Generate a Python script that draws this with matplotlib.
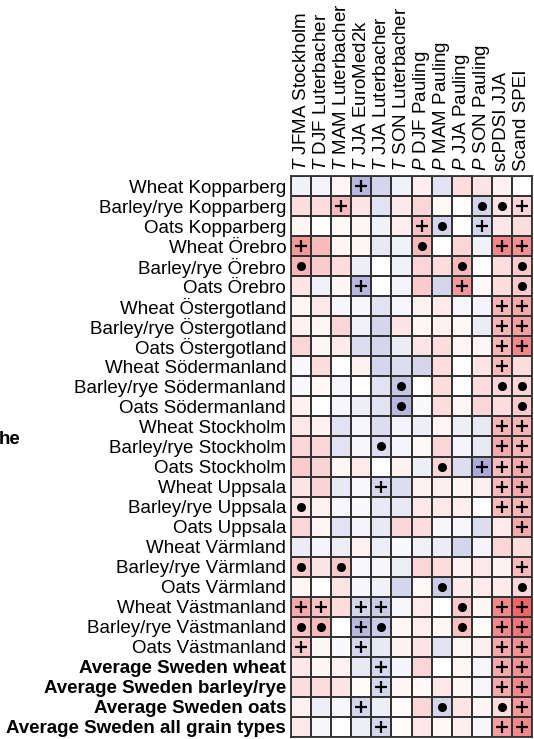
import numpy as np
import matplotlib
matplotlib.use('Agg')
import matplotlib.pyplot as plt
from matplotlib.colors import LinearSegmentedColormap

plt.rcParams['font.family'] = 'Liberation Sans'
plt.rcParams['mathtext.fontset'] = 'custom'
plt.rcParams['mathtext.rm'] = 'Liberation Sans'
plt.rcParams['mathtext.it'] = 'Liberation Sans:italic'

# column labels (climate variables)
columns = [r'$\mathit{T}$ JFMA Stockholm', r'$\mathit{T}$ DJF Luterbacher',
           r'$\mathit{T}$ MAM Luterbacher', r'$\mathit{T}$ JJA EuroMed2k',
           r'$\mathit{T}$ JJA Luterbacher', r'$\mathit{T}$ SON Luterbacher',
           r'$\mathit{P}$ DJF Pauling', r'$\mathit{P}$ MAM Pauling',
           r'$\mathit{P}$ JJA Pauling', r'$\mathit{P}$ SON Pauling',
           'scPDSI JJA', 'Scand SPEI']

# row labels (harvest series)
rows = ['Wheat Kopparberg', 'Barley/rye Kopparberg', 'Oats Kopparberg',
        'Wheat Örebro', 'Barley/rye Örebro', 'Oats Örebro',
        'Wheat Östergotland', 'Barley/rye Östergotland', 'Oats Östergotland',
        'Wheat Södermanland', 'Barley/rye Södermanland', 'Oats Södermanland',
        'Wheat Stockholm', 'Barley/rye Stockholm', 'Oats Stockholm',
        'Wheat Uppsala', 'Barley/rye Uppsala', 'Oats Uppsala',
        'Wheat Värmland', 'Barley/rye Värmland', 'Oats Värmland',
        'Wheat Västmanland', 'Barley/rye Västmanland', 'Oats Västmanland',
        'Average Sweden wheat', 'Average Sweden barley/rye',
        'Average Sweden oats', 'Average Sweden all grain types']
n_bold = 4  # last rows are the Sweden averages

# correlation values
corr = np.array([
    [-0.05, -0.04, 0.03, -0.25, -0.15, -0.05, 0.05, -0.10, 0.10, 0.08, 0.04, 0.00],
    [0.10, 0.10, 0.20, 0.08, -0.10, 0.06, 0.12, 0.02, 0.00, -0.15, 0.08, 0.12],
    [0.03, 0.00, 0.02, 0.03, -0.05, 0.05, 0.18, -0.15, 0.00, -0.15, 0.07, 0.10],
    [0.30, 0.20, 0.03, 0.03, -0.08, -0.05, 0.20, 0.00, 0.12, -0.05, 0.35, 0.32],
    [0.22, 0.15, 0.10, -0.06, 0.00, -0.05, 0.12, 0.10, 0.20, 0.00, 0.10, 0.15],
    [0.08, -0.05, 0.03, -0.25, 0.00, -0.04, 0.15, -0.15, 0.30, 0.02, 0.10, 0.15],
    [0.03, 0.07, -0.03, -0.03, -0.10, -0.03, 0.04, 0.06, -0.03, -0.04, 0.22, 0.25],
    [0.04, 0.03, 0.12, -0.05, -0.15, 0.08, 0.03, 0.04, 0.02, -0.07, 0.22, 0.28],
    [0.12, 0.03, 0.06, -0.12, -0.15, -0.07, 0.08, 0.10, 0.03, 0.03, 0.22, 0.35],
    [-0.02, 0.10, 0.00, 0.04, -0.15, -0.12, -0.15, 0.10, 0.00, 0.08, 0.20, 0.10],
    [-0.02, 0.02, -0.03, 0.00, -0.10, -0.20, 0.00, 0.10, 0.00, 0.10, 0.12, 0.12],
    [0.04, 0.00, -0.03, -0.06, -0.10, -0.25, -0.02, 0.10, 0.03, 0.12, 0.10, 0.15],
    [0.07, 0.04, -0.10, -0.03, -0.12, -0.04, -0.06, 0.03, -0.06, -0.08, 0.22, 0.22],
    [0.12, 0.12, -0.10, -0.03, -0.12, -0.04, 0.02, 0.12, -0.04, -0.08, 0.25, 0.22],
    [0.15, 0.13, 0.03, 0.06, 0.00, 0.04, -0.06, 0.12, -0.12, -0.30, 0.20, 0.25],
    [0.08, 0.13, -0.08, -0.02, -0.15, -0.12, 0.04, 0.05, 0.03, 0.05, 0.20, 0.25],
    [0.08, 0.04, -0.03, -0.02, -0.08, -0.08, 0.07, 0.07, 0.05, 0.00, 0.20, 0.22],
    [0.12, 0.03, -0.10, -0.04, -0.08, 0.12, 0.10, -0.03, -0.03, -0.12, 0.06, 0.25],
    [-0.07, -0.04, -0.06, 0.04, -0.06, -0.02, -0.05, -0.07, -0.15, -0.04, 0.12, 0.10],
    [0.15, 0.08, 0.15, -0.02, -0.03, -0.06, 0.12, 0.10, 0.04, 0.07, 0.04, 0.20],
    [0.03, 0.00, 0.08, -0.03, -0.05, -0.15, 0.02, -0.18, 0.06, 0.06, 0.06, 0.12],
    [0.25, 0.18, 0.10, -0.15, -0.18, -0.03, 0.06, 0.00, 0.15, 0.03, 0.35, 0.45],
    [0.18, 0.20, 0.00, -0.25, -0.18, 0.03, 0.05, 0.03, 0.18, 0.01, 0.35, 0.40],
    [0.15, 0.03, -0.02, -0.15, -0.08, 0.04, 0.08, -0.10, 0.03, 0.05, 0.25, 0.32],
    [0.07, 0.03, 0.04, -0.08, -0.15, -0.04, 0.12, 0.00, 0.03, -0.03, 0.25, 0.32],
    [0.10, 0.10, 0.08, 0.01, -0.15, 0.03, 0.02, 0.07, 0.03, -0.03, 0.25, 0.35],
    [0.04, -0.06, -0.03, -0.15, -0.06, 0.01, 0.12, -0.15, 0.08, 0.03, 0.10, 0.30],
    [0.07, -0.03, 0.00, -0.06, -0.15, 0.01, 0.07, 0.02, 0.05, -0.03, 0.28, 0.35],
])

# significance markers: '+' and 'o' (dot), '' = none
sig = [
    ['', '', '', '+', '', '', '', '', '', '', '', ''],
    ['', '', '+', '', '', '', '', '', '', 'o', 'o', '+'],
    ['', '', '', '', '', '', '+', 'o', '', '+', '', ''],
    ['+', '', '', '', '', '', 'o', '', '', '', '+', '+'],
    ['o', '', '', '', '', '', '', '', 'o', '', '', 'o'],
    ['', '', '', '+', '', '', '', '', '+', '', '', 'o'],
    ['', '', '', '', '', '', '', '', '', '', '+', '+'],
    ['', '', '', '', '', '', '', '', '', '', '+', '+'],
    ['', '', '', '', '', '', '', '', '', '', '+', '+'],
    ['', '', '', '', '', '', '', '', '', '', '+', ''],
    ['', '', '', '', '', 'o', '', '', '', '', 'o', 'o'],
    ['', '', '', '', '', 'o', '', '', '', '', '', 'o'],
    ['', '', '', '', '', '', '', '', '', '', '+', '+'],
    ['', '', '', '', 'o', '', '', '', '', '', '+', '+'],
    ['', '', '', '', '', '', '', 'o', '', '+', '+', '+'],
    ['', '', '', '', '+', '', '', '', '', '', '+', '+'],
    ['o', '', '', '', '', '', '', '', '', '', '+', '+'],
    ['', '', '', '', '', '', '', '', '', '', '', '+'],
    ['', '', '', '', '', '', '', '', '', '', '', ''],
    ['o', '', 'o', '', '', '', '', '', '', '', '', '+'],
    ['', '', '', '', '', '', '', 'o', '', '', '', 'o'],
    ['+', '+', '', '+', '+', '', '', '', 'o', '', '+', '+'],
    ['o', 'o', '', '+', 'o', '', '', '', 'o', '', '+', '+'],
    ['+', '', '', '+', '', '', '', '', '', '', '+', '+'],
    ['', '', '', '', '+', '', '', '', '', '', '+', '+'],
    ['', '', '', '', '+', '', '', '', '', '', '+', '+'],
    ['', '', '', '+', '', '', '', 'o', '', '', 'o', '+'],
    ['', '', '', '', '+', '', '', '', '', '', '+', '+'],
]

cmap = LinearSegmentedColormap.from_list('bwr_soft', ['#5555b0', '#ffffff', '#e8333a'])

fig = plt.figure(figsize=(5.34, 7.39), dpi=100)
ax = fig.add_axes([291/534, 2/739, 241/534, 561/739])

nr, nc = corr.shape
ax.pcolormesh(np.arange(nc + 1), np.arange(nr + 1), corr, cmap=cmap,
              vmin=-0.6, vmax=0.6, edgecolors='#333333', linewidth=1.3)
ax.set_xlim(0, nc)
ax.set_ylim(nr, 0)

for i in range(nr):
    for j in range(nc):
        if sig[i][j] == '+':
            ax.plot(j + 0.5, i + 0.5, marker='+', color='black', markersize=9, mew=1.6)
        elif sig[i][j] == 'o':
            ax.plot(j + 0.5, i + 0.5, marker='o', color='black', markersize=5.5)

ax.set_xticks(np.arange(nc) + 0.5)
ax.set_xticklabels(columns, rotation=90, fontsize=13.5)
ax.xaxis.tick_top()
ax.set_yticks(np.arange(nr) + 0.5)
ax.set_yticklabels(rows, fontsize=13.5)
for lab in ax.get_yticklabels()[-n_bold:]:
    lab.set_fontweight('bold')
ax.tick_params(length=0, pad=3.5)
for s in ax.spines.values():
    s.set_linewidth(1.3)
    s.set_color('#333333')

# cut-off label at the left edge
fig.text(20/534, 1 - 439/739, 'he', ha='right', va='center', fontsize=13.5, fontweight='bold')

fig.savefig('out.png', dpi=100)
